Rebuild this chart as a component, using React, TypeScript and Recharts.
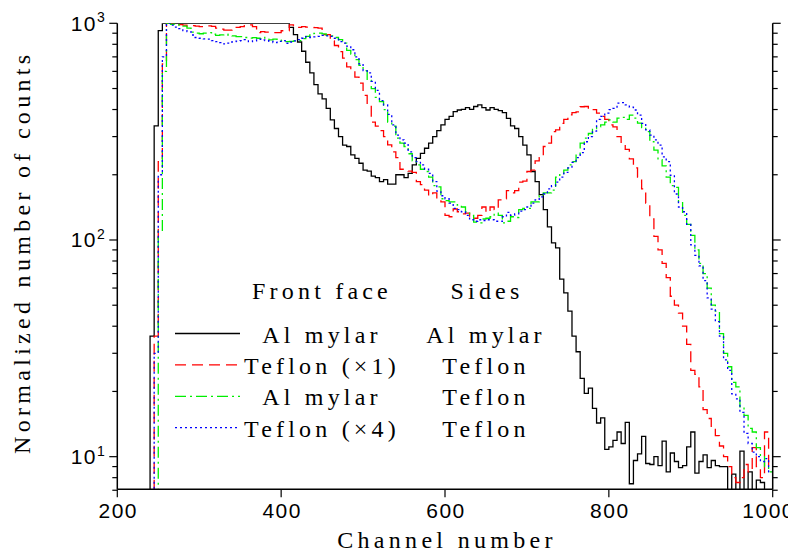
import React from 'react';
import { LineChart, Line, XAxis, YAxis, Legend } from 'recharts';

// histogram bins: first bin starts at channel 200, 5 channels wide,
// the last entry (channel 1000) only closes the final step
const firstChannel = 200;
const binWidth = 5;

const alMylar = [
  5, 5, 5, 5, 5, 5, 5, 5, 36, 336,
  925, 1000, 1000, 1000, 1000, 1000, 1000, 1000, 1000, 1000,
  1000, 1000, 1000, 1000, 1000, 1000, 1000, 1000, 1000, 1000,
  1000, 1000, 1000, 1000, 1000, 1000, 1000, 1000, 1000, 1000,
  1000, 1000, 958, 886, 820, 743, 661, 590, 521, 472,
  448, 405, 358, 327, 300, 274, 270, 247, 238, 226,
  210, 208, 197, 194, 186, 190, 181, 181, 200, 200,
  194, 203, 222, 238, 251, 265, 280, 300, 320, 340,
  360, 372, 391, 398, 401, 408, 401, 413, 420, 408,
  398, 408, 401, 395, 387, 364, 336, 327, 300, 274,
  247, 207, 186, 162, 138, 115, 97, 92, 66, 57,
  47, 36, 30.5, 23, 19.6, 20.7, 16.7, 14.3, 15.1, 10.8,
  11.1, 11.9, 13, 11.5, 14.4, 7.5, 9.6, 10.3, 12.4, 9.3,
  9.2, 10, 9.1, 11.8, 8.5, 10.4, 9.5, 8.9, 9.1, 11.1,
  13, 8.4, 9.5, 10.2, 8.9, 9.6, 9.1, 9, 9, 5,
  8.3, 5, 10.6, 5, 8.5, 5, 7.8, 7.6, 5, 5,
  5,
];

const teflonX1 = [
  5, 5, 5, 5, 5, 5, 5, 5, 5, 36,
  230, 650, 1000, 1000, 990, 985, 980, 968, 975, 970,
  965, 972, 972, 968, 950, 940, 931, 931, 958, 958,
  965, 975, 983, 965, 905, 915, 910, 905, 905, 905,
  924, 924, 983, 975, 958, 965, 960, 958, 955, 950,
  886, 886, 830, 790, 740, 690, 630, 605, 565, 530,
  465, 420, 350, 335, 320, 300, 275, 255, 240, 212,
  210, 208, 205, 186, 180, 170, 160, 165, 155, 150,
  130, 128, 139, 135, 132, 133, 128, 126, 130, 142,
  134, 142, 138, 153, 155, 169, 165, 169, 185, 187,
  207, 210, 232, 240, 270, 280, 316, 322, 345, 360,
  378, 387, 390, 412, 413, 398, 400, 385, 372, 360,
  340, 333, 300, 275, 262, 237, 215, 195, 172, 148,
  125, 104, 90, 78, 67, 55, 50, 46, 40, 33,
  25, 24, 21, 16.5, 15, 13.5, 12.5, 11.2, 10, 9,
  8, 7.6, 8, 9.2, 8.5, 11, 9, 8, 13, 9,
  9,
];

const alMylarTeflonSides = [
  5, 5, 5, 5, 5, 5, 5, 5, 5, 6,
  110, 600, 1000, 990, 985, 980, 970, 950, 910, 900,
  895, 900, 905, 890, 880, 885, 890, 883, 875, 868,
  868, 860, 855, 858, 853, 860, 845, 838, 845, 835,
  830, 823, 826, 830, 832, 850, 870, 885, 899, 900,
  893, 880, 874, 860, 840, 810, 750, 720, 680, 640,
  605, 545, 500, 455, 435, 400, 350, 335, 295, 280,
  270, 250, 232, 222, 212, 207, 195, 178, 176, 155,
  152, 150, 150, 145, 142, 135, 130, 121, 120, 125,
  126, 128, 133, 130, 120, 122, 128, 127, 138, 140,
  140, 150, 150, 160, 165, 165, 170, 195, 200, 210,
  222, 230, 250, 280, 295, 310, 327, 333, 340, 350,
  358, 350, 365, 368, 360, 377, 365, 346, 330, 316,
  284, 260, 235, 220, 195, 178, 175, 150, 130, 118,
  105, 90, 78, 70, 60, 50, 47, 37, 30, 26,
  22, 21, 17, 15.5, 13.5, 13, 11, 10, 9, 8.5,
  8.5,
];

const teflonX4 = [
  5, 5, 5, 5, 5, 5, 5, 5, 5, 30,
  200, 700, 1000, 980, 960, 945, 925, 915, 883, 860,
  853, 848, 845, 832, 823, 815, 803, 810, 823, 828,
  832, 840, 823, 830, 845, 838, 832, 825, 815, 825,
  832, 809, 820, 830, 840, 853, 868, 860, 865, 870,
  880, 875, 870, 853, 823, 810, 785, 755, 700, 650,
  605, 590, 540, 490, 440, 420, 380, 340, 305, 290,
  280, 255, 240, 230, 222, 212, 203, 186, 168, 160,
  155, 148, 140, 138, 135, 130, 124, 122, 124, 123,
  124, 124, 122, 122, 128, 134, 130, 132, 136, 138,
  142, 148, 153, 158, 163, 172, 178, 185, 195, 205,
  215, 228, 240, 253, 284, 300, 318, 360, 372, 385,
  400, 405, 428, 430, 420, 410, 398, 377, 345, 322,
  305, 290, 274, 242, 230, 199, 163, 142, 135, 118,
  95, 85, 76, 65, 54, 48, 42, 36, 28, 25,
  19.5, 18.5, 16, 12.8, 11.5, 10.5, 10, 9.5, 9.8, 8.5,
  8.5,
];

const xTicks = [200, 400, 600, 800, 1000];
const yTicks = [
  7, 8, 9, 10, 20, 30, 40, 50, 60, 70, 80, 90,
  100, 200, 300, 400, 500, 600, 700, 800, 900, 1000,
];
const decades = [10, 100, 1000];

const frontFace = ['Al mylar', 'Teflon (\u00d71)', 'Al mylar', 'Teflon (\u00d74)'];
const sides = ['Al mylar', 'Teflon', 'Teflon', 'Teflon'];

const data = alMylar.map((v, i) => ({
  ch: firstChannel + i * binWidth,
  alMylar: v,
  teflonX1: teflonX1[i],
  alMylarTeflonSides: alMylarTeflonSides[i],
  teflonX4: teflonX4[i],
}));

const serif = '"Liberation Serif", "Times New Roman", serif';
const sans = '"Liberation Sans", Arial, sans-serif';

const styles = [
  { key: 'alMylar', color: '#000000', dash: undefined, width: 1.3 },
  { key: 'teflonX1', color: '#ff0000', dash: '11 6', width: 1.3 },
  { key: 'alMylarTeflonSides', color: '#00ee00', dash: '11 4 2 4', width: 1.3 },
  { key: 'teflonX4', color: '#0000ff', dash: '2 3', width: 1.3 },
];

const BottomTick = ({ x, y, payload }: any) => (
  <g>
    <line x1={x} y1={y} x2={x} y2={y + 8} stroke="#000" strokeWidth={1.2} />
    <text x={payload.value === 1000 ? x - 4 : x + 1} y={y + 29} textAnchor="middle"
      fontFamily={sans} fontSize={21} letterSpacing={1.5} fill="#000">
      {payload.value}
    </text>
  </g>
);

const TopTick = ({ x, y }: any) => (
  <line x1={x} y1={y - 8} x2={x} y2={y} stroke="#000" strokeWidth={1.2} />
);

const LeftTick = ({ x, y, payload }: any) => {
  const v = payload.value;
  const major = decades.includes(v);
  return (
    <g>
      <line x1={x - (major ? 8 : 5)} y1={y} x2={x} y2={y} stroke="#000" strokeWidth={1.2} />
      {major && (
        <text x={x - 11} y={y + 7.5} textAnchor="end" fontFamily={sans} fontSize={21}
          letterSpacing={1.5} fill="#000">
          10
          <tspan dy={-8.5} fontSize={14}>{Math.round(Math.log10(v))}</tspan>
        </text>
      )}
    </g>
  );
};

const RightTick = ({ x, y, payload }: any) => {
  const major = decades.includes(payload.value);
  return <line x1={x} y1={y} x2={x + (major ? 8 : 5)} y2={y} stroke="#000" strokeWidth={1.2} />;
};

const XTitle = ({ viewBox }: any) => (
  <text x={viewBox.x + viewBox.width / 2 + 2} y={viewBox.y + viewBox.height - 4}
    textAnchor="middle" fontFamily={serif} fontSize={24} letterSpacing={4.3} fill="#000">
    Channel number
  </text>
);

const YTitle = ({ viewBox }: any) => {
  const cx = 22;
  const cy = viewBox.y + viewBox.height / 2 - 4;
  return (
    <text x={cx} y={cy} transform={`rotate(-90 ${cx} ${cy})`} textAnchor="middle"
      fontFamily={serif} fontSize={24} letterSpacing={4.3} fill="#000">
      Normalized number of counts
    </text>
  );
};

const LegendTable = () => (
  <svg width={400} height={180} style={{ overflow: 'visible' }}>
    <g fontFamily={serif} fontSize={24} letterSpacing={4.2} fill="#000" textAnchor="middle">
      <text x={162} y={29}>Front face</text>
      <text x={327} y={29}>Sides</text>
      {styles.map((s, i) => {
        const ly = 63.5 + i * 31.4;
        return (
          <g key={s.key}>
            <line x1={15} y1={ly} x2={80} y2={ly} stroke={s.color} strokeWidth={s.width}
              strokeDasharray={s.dash} />
            <text x={162} y={ly + 9}>{frontFace[i]}</text>
            <text x={326} y={ly + 9}>{sides[i]}</text>
          </g>
        );
      })}
    </g>
  </svg>
);

const App = () => {
  return (
    <LineChart width={788} height={544} data={data} style={{ overflow: 'visible' }}
      margin={{ top: 15.3, right: 13, bottom: 0, left: 0 }}>
      <XAxis dataKey="ch" type="number" domain={[200, 1000]} ticks={xTicks} interval={0}
        allowDataOverflow height={62.7} tickSize={0} tickMargin={0} tick={<BottomTick />}
        axisLine={{ stroke: '#000', strokeWidth: 1.5 }} label={<XTitle />} />
      <XAxis xAxisId="top" orientation="top" dataKey="ch" type="number" domain={[200, 1000]}
        ticks={xTicks} interval={0} allowDataOverflow height={0} tickSize={0} tickMargin={0}
        tick={<TopTick />} axisLine={{ stroke: '#000', strokeWidth: 1.5 }} />
      <YAxis scale="log" type="number" domain={[7.07, 1000]} ticks={yTicks} interval={0}
        allowDataOverflow width={109.3} tickSize={0} tickMargin={0} tick={<LeftTick />}
        axisLine={{ stroke: '#000', strokeWidth: 1.5 }} label={<YTitle />} />
      <YAxis yAxisId="right" orientation="right" scale="log" type="number" domain={[7.07, 1000]}
        ticks={yTicks} interval={0} allowDataOverflow width={10.3} tickSize={0} tickMargin={0}
        tick={<RightTick />} axisLine={{ stroke: '#000', strokeWidth: 1.5 }} />
      <Legend layout="vertical" align="center" verticalAlign="middle" content={<LegendTable />}
        wrapperStyle={{ left: 152, top: 262, width: 400, height: 180 }} />
      {styles.map((s) => (
        <Line key={s.key} type="stepAfter" dataKey={s.key} stroke={s.color}
          strokeWidth={s.width} strokeDasharray={s.dash} dot={false} activeDot={false}
          isAnimationActive={false} />
      ))}
    </LineChart>
  );
};

export default App;
